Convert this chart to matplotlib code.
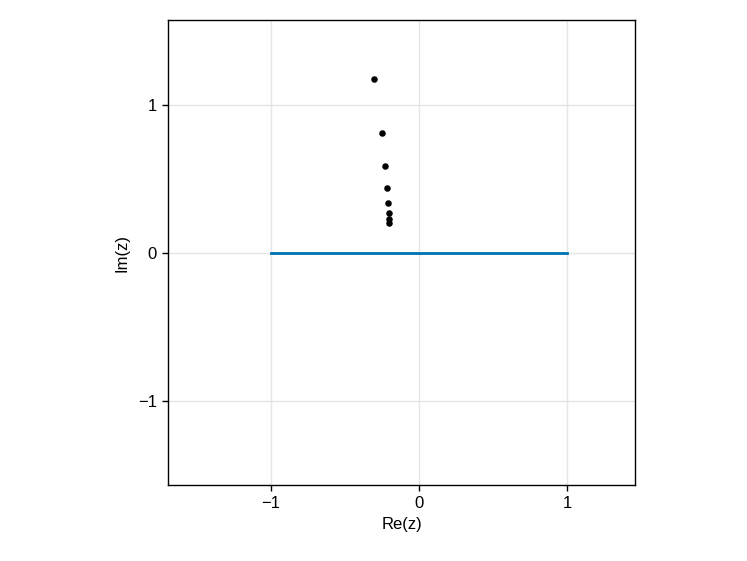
import numpy as np
import matplotlib
matplotlib.use("Agg")
import matplotlib.pyplot as plt

plt.rcParams['font.family'] = ['Liberation Sans', 'DejaVu Sans']

# poles
re_pts = [-0.302, -0.253, -0.228, -0.213, -0.206, -0.203, -0.201, -0.201]
im_pts = [1.174, 0.813, 0.588, 0.441, 0.340, 0.272, 0.227, 0.200]

# segment on the real axis
seg_x = [-1, 1]
seg_y = [0, 0]

fig = plt.figure(figsize=(7.47, 5.61), dpi=100)
ax = fig.add_axes([0.2249, 0.1355, 0.6258, 0.8288])

ax.plot(seg_x, seg_y, color='#0072B2', lw=2, zorder=2)
ax.scatter(re_pts, im_pts, s=22, color='black', zorder=3, linewidths=0)

ax.set_xlim(-1.694, 1.461)
ax.set_ylim(-1.568, 1.574)
ax.set_xticks([-1, 0, 1])
ax.set_yticks([-1, 0, 1])
ax.set_xticklabels(['\u22121', '0', '1'])
ax.set_yticklabels(['\u22121', '0', '1'])
ax.grid(True, color='#e5e5e5', lw=1, zorder=0)
ax.set_axisbelow(True)
ax.tick_params(direction='out', length=4, width=1, labelsize=12, pad=4)
for s in ax.spines.values():
    s.set_linewidth(1)
ax.set_xlabel('Re(z)', fontsize=12, labelpad=4)
ax.set_ylabel('Im(z)', fontsize=12, labelpad=6)

fig.savefig('out.png', dpi=100)
